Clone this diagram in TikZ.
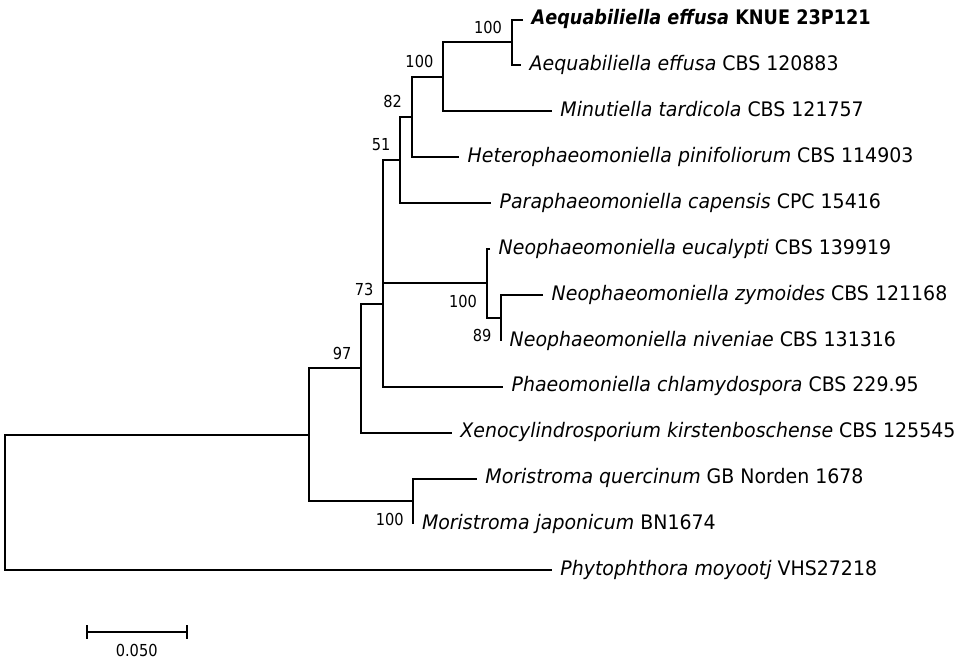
\documentclass[tikz,border=0pt]{standalone}
\usepackage{fontspec}
\setmainfont{DejaVu Sans}[FakeStretch=0.947]
\newfontfamily\knfont{DejaVu Sans}[FakeStretch=0.883]

\tikzset{
  br/.style={line width=2pt},
  leaf/.style={anchor=base west, inner sep=0pt, xshift=8.5pt, yshift=-5.2pt,
    font=\fontsize{20}{21}\selectfont},
  bsup/.style={anchor=east, inner sep=0pt, xshift=-9.5pt, yshift=15.2pt,
    font=\knfont\fontsize{16.5}{17}\selectfont},
  bsdown/.style={anchor=east, inner sep=0pt, xshift=-9.5pt, yshift=-18pt,
    font=\knfont\fontsize{16.5}{17}\selectfont},
}

\begin{document}
\begin{tikzpicture}[x=1pt, y=-1pt]
  \useasboundingbox (0,0) rectangle (967,667);

  % leaves
  \coordinate (kn) at (523, 19.5);
  \coordinate (cb) at (521, 65.4);
  \coordinate (mt) at (551.7, 111.3);
  \coordinate (he) at (459, 157.2);
  \coordinate (pa) at (491, 203.1);
  \coordinate (eu) at (490, 249);
  \coordinate (zy) at (543, 294.9);
  \coordinate (nv) at (501, 340.8);
  \coordinate (ph) at (503, 386.7);
  \coordinate (xe) at (451.7, 432.6);
  \coordinate (mq) at (476.7, 478.5);
  \coordinate (mj) at (413.3, 524.4);
  \coordinate (py) at (551.7, 570.3);

  % inner nodes
  \coordinate (n1) at (511.7, 42.45);
  \coordinate (n2) at (443, 76.9);
  \coordinate (n3) at (411.7, 117.05);
  \coordinate (n4) at (400, 160.1);
  \coordinate (n7) at (501, 317.85);
  \coordinate (n6) at (486.7, 283.4);
  \coordinate (n5) at (383.3, 221.75);
  \coordinate (n8) at (383, 304.2);
  \coordinate (n9) at (361, 368.4);
  \coordinate (n10) at (413.3, 501.45);
  \coordinate (n11) at (309, 434.9);
  \coordinate (rt) at (5, 502.6);

  \draw[br] (kn) -| (n1) |- (cb);
  \draw[br] (n1) -| (n2) |- (mt);
  \draw[br] (n2) -| (n3) |- (he);
  \draw[br] (n3) -| (n4) |- (pa);
  \draw[br] (zy) -| (n7) |- (nv);
  \draw[br] (eu) -| (n6) |- (n7);
  \draw[br] (n4) -| (n5) |- (n6);
  \draw[br] (n5) -| (n8) |- (ph);
  \draw[br] (n8) -| (n9) |- (xe);
  \draw[br] (mq) -| (n10) |- (mj);
  \draw[br] (n9) -| (n11) |- (n10);
  \draw[br] (n11) -| (rt) |- (py);

  \node[leaf] (tkn) at (kn) {\knfont\bfseries\textit{Aequabiliella effusa} KNUE 23P121};
  \node[leaf] (tcb) at (cb) {\textit{Aequabiliella effusa} CBS 120883};
  \node[leaf] (tmt) at (mt) {\textit{Minutiella tardicola} CBS 121757};
  \node[leaf] (the) at (he) {\textit{Heterophaeomoniella pinifoliorum} CBS 114903};
  \node[leaf] (tpa) at (pa) {\textit{Paraphaeomoniella capensis} CPC 15416};
  \node[leaf] (teu) at (eu) {\textit{Neophaeomoniella eucalypti} CBS 139919};
  \node[leaf] (tzy) at (zy) {\textit{Neophaeomoniella zymoides} CBS 121168};
  \node[leaf] (tnv) at (nv) {\textit{Neophaeomoniella niveniae} CBS 131316};
  \node[leaf] (tph) at (ph) {\textit{Phaeomoniella chlamydospora} CBS 229.95};
  \node[leaf] (txe) at (xe) {\textit{Xenocylindrosporium kirstenboschense} CBS 125545};
  \node[leaf] (tmq) at (mq) {\textit{Moristroma quercinum} GB Norden 1678};
  \node[leaf] (tmj) at (mj) {\textit{Moristroma japonicum} BN1674};
  \node[leaf] (tpy) at (py) {\textit{Phytophthora moyootj} VHS27218};

  % bootstrap values
  \node[bsup] (b1) at (n1) {100};
  \node[bsup] (b2) at (n2) {100};
  \node[bsup] (b3) at (n3) {82};
  \node[bsup] (b4) at (n4) {51};
  \node[bsup] (b8) at (n8) {73};
  \node[bsup] (b9) at (n9) {97};
  \node[bsdown] (b6) at (n6) {100};
  \node[bsdown] (b7) at (n7) {89};
  \node[bsdown] (b10) at (n10) {100};

  % scale bar
  \coordinate (sl) at (86.7, 632.3);
  \coordinate (sr) at (186.7, 632.3);
  \draw[br] (sl) -- (sr);
  \draw[br] ([yshift=7pt]sl) -- ([yshift=-7pt]sl);
  \draw[br] ([yshift=7pt]sr) -- ([yshift=-7pt]sr);
  \node[font=\knfont\fontsize{16.5}{17}\selectfont, inner sep=0pt] (sc) at (136.7, 650) {0.050};
\end{tikzpicture}
\end{document}
